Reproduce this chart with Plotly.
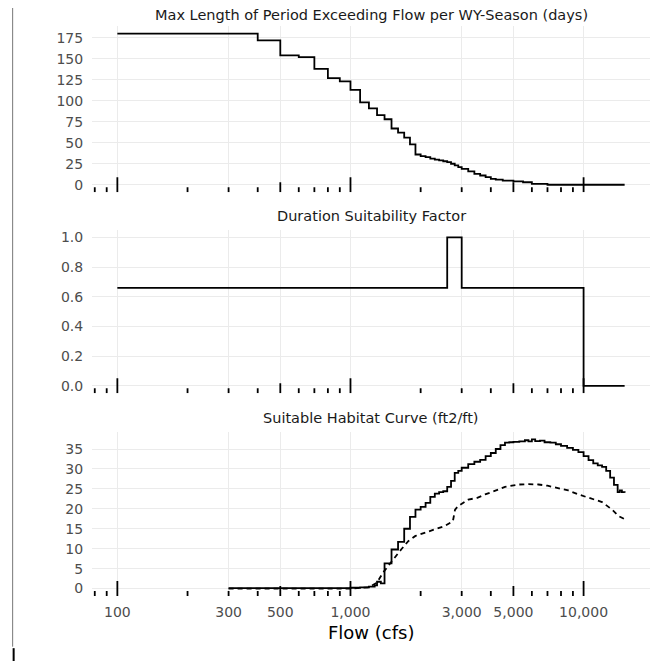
import numpy as np
import plotly.graph_objects as go

# ---------------- data ----------------
flow_days = [100, 400, 500, 600, 700, 800, 900, 1000, 1100, 1200, 1300, 1400, 1500, 1600,
             1700, 1800, 1900, 2000, 2100, 2200, 2300, 2400, 2500, 2600, 2700, 2800, 2900,
             3000, 3200, 3400, 3600, 3800, 4000, 4200, 4500, 5000, 5500, 6000, 7000, 15000]
max_days = [180, 172, 154, 152, 138, 127, 123, 113, 98, 91, 83, 78, 67, 62,
            56, 48, 36, 34, 33, 31, 30, 29, 28, 27, 25, 23, 21,
            19, 16, 13, 11, 9, 7, 6, 5, 4, 3, 1, 0, 0]

flow_factor = [100, 2600, 3000, 10000, 15000]
dur_factor = [0.66, 1.0, 0.66, 0.0, 0.0]

flow_hab = [300, 1000, 1100, 1200, 1270, 1300, 1350, 1400, 1500, 1600, 1700, 1800, 1900,
            2000, 2100, 2200, 2300, 2400, 2500, 2600, 2700, 2800, 2900, 3000, 3200, 3400,
            3600, 3800, 4000, 4200, 4400, 4600, 4800, 5000, 5300, 5600, 5800, 6000, 6200,
            6500, 6800, 7200, 7600, 8000, 8500, 9000, 9500, 10000, 10500, 11000, 11500,
            12000, 12500, 13000, 13500, 14000, 14300, 14600, 15000]
hab_solid = [0.1, 0.2, 0.3, 0.5, 0.8, 1.7, 1.3, 6.3, 9.8, 11.7, 15.0, 18.0, 19.8,
             20.5, 21.5, 23.0, 23.8, 24.2, 24.4, 25.5, 27.0, 29.0, 29.5, 30.3, 31.2, 31.8,
             32.3, 33.2, 34.0, 35.0, 36.0, 36.6, 36.7, 36.8, 36.9, 37.2, 36.9, 37.4, 37.0,
             37.1, 36.7, 36.6, 36.2, 35.8, 35.3, 34.8, 34.2, 33.2, 32.2, 31.4, 30.9,
             30.5, 29.5, 27.8, 26.0, 24.2, 24.6, 24.2, 24.0]

flow_hab2 = [300, 1000, 1200, 1300, 1380, 1450, 1550, 1650, 1770, 1900, 2090, 2300, 2540,
             2750, 2810, 2900, 3200, 3500, 3780, 4300, 4600, 4930, 5300, 5800, 6400, 7000,
             7800, 8600, 9500, 10200, 11200, 12000, 13250, 14100, 14900]
hab_dashed = [0.0, 0.0, 0.3, 1.5, 4.0, 5.7, 7.8, 9.8, 11.9, 13.2, 14.0, 14.8, 15.7,
              16.9, 19.8, 20.7, 22.3, 22.75, 23.6, 24.8, 25.5, 25.8, 26.1, 26.2, 26.1, 25.8,
              25.2, 24.6, 23.6, 23.0, 22.2, 21.7, 19.8, 18.2, 17.5]

x_tickvals = [100, 300, 500, 1000, 3000, 5000, 10000]
x_ticktext = ["100", "300", "500", "1,000", "3,000", "5,000", "10,000"]
logtick_vals = [80, 90, 100, 200, 300, 400, 500, 600, 700, 800, 900, 1000,
                2000, 3000, 4000, 5000, 6000, 7000, 8000, 9000, 10000]

titles = ["Max Length of Period Exceeding Flow per WY-Season (days)",
          "Duration Suitability Factor",
          "Suitable Habitat Curve (ft2/ft)"]
y_ticks = [[0, 25, 50, 75, 100, 125, 150, 175],
           [0, 0.2, 0.4, 0.6, 0.8, 1.0],
           [0, 5, 10, 15, 20, 25, 30, 35]]
y_ticktext = [[str(v) for v in y_ticks[0]],
              ["%.1f" % v for v in y_ticks[1]],
              [str(v) for v in y_ticks[2]]]

# ---------------- layout geometry (page pixels, figure sits at 8px body offset) ----------------
W, H = 669, 661
OFF = 8
PL, PR, PT, PB = 91.7, 650.0, 25.5, 595.8     # plot area edges in page px
L, T = PL - OFF, PT - OFF
R, B = W - (PR - OFF), H - (PB - OFF)
PW, PH = W - L - R, H - T - B
panels_px = [(25.5, 191.9), (229.6, 392.9), (431.7, 595.8)]


def px_x(px):
    return (px - OFF - L) / PW


def px_y(py):
    return 1 - (py - OFF - T) / PH


def ydom(top, bot):
    return [px_y(bot), px_y(top)]


all_flows = flow_days + flow_factor + flow_hab + flow_hab2
lmin, lmax = np.log10(min(all_flows)), np.log10(max(all_flows))
xpad = 0.05 * (lmax - lmin)
xrange = [lmin - xpad, lmax + xpad]


def yrange(vals):
    lo, hi = min(vals), max(vals)
    pad = 0.05 * (hi - lo)
    return [lo - pad, hi + pad]


yranges = [yrange(max_days), yrange(dur_factor), yrange(hab_solid + hab_dashed)]

FONT = "DejaVu Sans"
GRID = "#ebebeb"
LINE_W = 1.8

fig = go.Figure()

fig.add_trace(go.Scatter(x=flow_days, y=max_days, mode="lines", line_shape="hv",
                         line=dict(color="black", width=LINE_W), xaxis="x", yaxis="y",
                         showlegend=False, hoverinfo="skip"))
fig.add_trace(go.Scatter(x=flow_factor, y=dur_factor, mode="lines", line_shape="hv",
                         line=dict(color="black", width=LINE_W), xaxis="x2", yaxis="y2",
                         showlegend=False, hoverinfo="skip"))
fig.add_trace(go.Scatter(x=flow_hab, y=hab_solid, mode="lines", line_shape="hv",
                         line=dict(color="black", width=LINE_W), xaxis="x3", yaxis="y3",
                         showlegend=False, hoverinfo="skip"))
fig.add_trace(go.Scatter(x=flow_hab2, y=hab_dashed, mode="lines",
                         line=dict(color="black", width=LINE_W, dash="5px,4px"),
                         xaxis="x3", yaxis="y3", showlegend=False, hoverinfo="skip"))

# log tick marks (annotation_logticks style) drawn at the bottom of each panel
for k in range(3):
    top, bot = panels_px[k]
    ph = bot - top
    y0, y1 = yranges[k]
    xs, ys = [], []
    for v in logtick_vals:
        lv = np.log10(v)
        if abs(lv - round(lv)) < 1e-9:
            ln = 15
        elif abs(lv - np.floor(lv) - np.log10(5)) < 1e-9:
            ln = 10
        else:
            ln = 5
        xs += [v, v, None]
        ys += [y0, y0 + ln / ph * (y1 - y0), None]
    sfx = "" if k == 0 else str(k + 1)
    fig.add_trace(go.Scatter(x=xs, y=ys, mode="lines", line=dict(color="black", width=1.8),
                             xaxis="x" + sfx, yaxis="y" + sfx, showlegend=False,
                             hoverinfo="skip", cliponaxis=False))

layout = dict(
    width=W, height=H,
    margin=dict(l=L, r=R, t=T, b=B),
    paper_bgcolor="white", plot_bgcolor="white",
    font=dict(family=FONT, size=14, color="#4d4d4d"),
    showlegend=False,
)
for k in range(3):
    sfx = "" if k == 0 else str(k + 1)
    top, bot = panels_px[k]
    layout["xaxis" + sfx] = dict(
        type="log", range=xrange, domain=[0, 1], anchor="y" + sfx,
        tickvals=x_tickvals, ticktext=x_ticktext, showticklabels=(k == 2),
        showgrid=True, gridcolor=GRID, gridwidth=1.2, zeroline=False, showline=False,
        ticks="outside", ticklen=3, tickcolor="rgba(0,0,0,0)",
        tickfont=dict(family=FONT, size=14, color="#4d4d4d"), automargin=False,
    )
    layout["yaxis" + sfx] = dict(
        range=yranges[k], domain=ydom(top, bot), anchor="x" + sfx,
        tickvals=y_ticks[k], ticktext=y_ticktext[k],
        showgrid=True, gridcolor=GRID, gridwidth=1.2, zeroline=False, showline=False,
        ticks="outside", ticklen=5, tickcolor="rgba(0,0,0,0)",
        tickfont=dict(family=FONT, size=14, color="#4d4d4d"), automargin=False,
    )

title_y = [14, 216, 418]
annotations = []
for k in range(3):
    annotations.append(dict(text=titles[k], xref="paper", yref="paper", x=0.5,
                            y=px_y(title_y[k]), xanchor="center", yanchor="middle",
                            showarrow=False, font=dict(family=FONT, size=14.5, color="#1a1a1a")))
annotations.append(dict(text="Flow (cfs)", xref="paper", yref="paper", x=0.5,
                        y=px_y(632), xanchor="center", yanchor="middle", showarrow=False,
                        font=dict(family=FONT, size=18, color="black")))
layout["annotations"] = annotations

layout["shapes"] = [
    dict(type="line", xref="paper", yref="paper", x0=px_x(12.3), x1=px_x(12.3),
         y0=px_y(0), y1=px_y(646.5), line=dict(color="#777777", width=1)),
    dict(type="line", xref="paper", yref="paper", x0=px_x(13.3), x1=px_x(13.3),
         y0=px_y(648), y1=px_y(661), line=dict(color="black", width=2)),
]

fig.update_layout(**layout)
fig.write_html("out.html", config={"displayModeBar": False})
